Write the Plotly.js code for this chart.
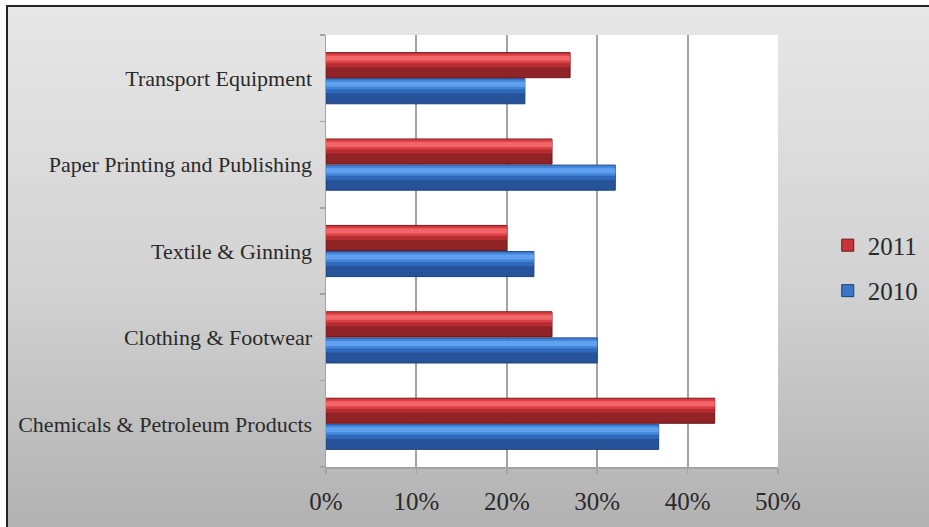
<!DOCTYPE html>
<html>
<head>
<meta charset="utf-8">
<script src="https://cdn.plot.ly/plotly-3.0.1.min.js"></script>
<style>
  html, body { margin:0; padding:0; background:#ffffff; overflow:hidden; }
  #wrap { position:relative; width:929px; height:527px; overflow:hidden; }
  #frame { position:absolute; left:6px; top:5px; width:960px; height:560px;
           border:2px solid #262626; box-sizing:border-box;
           background:linear-gradient(to bottom, #e7e7e7 0%, #d2d2d2 50%, #adadad 100%); }
  #chart { position:absolute; left:0; top:0; width:929px; height:527px; }
</style>
</head>
<body>
<div id="wrap"><div id="frame"></div><div id="chart"></div></div>
<script>
// ---- data ----
const categories = ["Chemicals & Petroleum Products", "Clothing & Footwear", "Textile & Ginning", "Paper Printing and Publishing", "Transport Equipment"];
const values2010 = [36.8, 30, 23, 32, 22];
const values2011 = [43, 25, 20, 25, 27];
const seriesNames = ["2010", "2011"];
const xTickVals = [0, 10, 20, 30, 40, 50];
const xTickText = ["0%", "10%", "20%", "30%", "40%", "50%"];

// ---- styling (bar thickness in category units, shading strips) ----
const barW = 0.29;
const seriesStyle = {
  "2010": { base: -0.296, outline: "#1a3f78", rank: 2,
            strips: [[0, 1, "#27539a"], [0.42, 1, "#3169ba"], [0.58, 0.96, "#4286d9"], [0.68, 0.88, "#60a0ee"]],
            legendColor: "#3a76c8" },
  "2011": { base: 0.006, outline: "#6a1518", rank: 1,
            strips: [[0, 1, "#902326"], [0.42, 1, "#b52d31"], [0.58, 0.96, "#db4144"], [0.68, 0.88, "#f26668"]],
            legendColor: "#c8343a" }
};

const dataSets = { "2010": values2010, "2011": values2011 };
const traces = [];
seriesNames.forEach(name => {
  const st = seriesStyle[name];
  st.strips.forEach((s, i) => {
    traces.push({
      type: "bar", orientation: "h",
      x: dataSets[name], y: categories,
      offset: st.base + s[0] * barW, width: (s[1] - s[0]) * barW,
      marker: { color: s[2], line: { color: st.outline, width: i === 0 ? 1 : 0 } },
      name: name, legendgroup: name, showlegend: false, hoverinfo: "skip"
    });
  });
  // legend-only entry
  traces.push({
    type: "bar", orientation: "h", x: [null], y: [categories[0]],
    marker: { color: st.legendColor, line: { color: st.outline, width: 1 } },
    name: name, legendgroup: name, legendrank: st.rank, showlegend: true, hoverinfo: "skip"
  });
});

const layout = {
  width: 929, height: 527,
  margin: { l: 326, r: 151, t: 35, b: 60, pad: 0 },
  paper_bgcolor: "rgba(0,0,0,0)",
  plot_bgcolor: "#ffffff",
  barmode: "overlay",
  font: { family: "Liberation Serif", color: "#262626" },
  xaxis: {
    range: [0, 50], tickvals: xTickVals, ticktext: xTickText,
    showgrid: true, gridcolor: "#a3a3a3", gridwidth: 2,
    zeroline: false, showline: true, linecolor: "#a3a3a3", linewidth: 1.5,
    ticks: "outside", ticklen: 5, tickcolor: "#a3a3a3", tickwidth: 1.5,
    tickfont: { family: "Liberation Serif", size: 25, color: "#2a2a2a" },
    ticklabelstandoff: 6, fixedrange: true
  },
  yaxis: {
    type: "category", categoryorder: "array", categoryarray: categories,
    range: [-0.5, 4.5],
    showgrid: false, zeroline: false, showline: true, linecolor: "#a3a3a3", linewidth: 1.5,
    ticks: "outside", tickson: "boundaries", ticklen: 5, tickcolor: "#a3a3a3", tickwidth: 1.5,
    tickfont: { family: "Liberation Serif", size: 22, color: "#2a2a2a" },
    ticklabelstandoff: 8, fixedrange: true
  },
  legend: {
    xref: "container", yref: "container", x: 0.891, y: 0.578, xanchor: "left", yanchor: "top",
    traceorder: "grouped", tracegroupgap: 10,
    font: { family: "Liberation Serif", size: 25, color: "#2a2a2a" }, bgcolor: "rgba(0,0,0,0)", itemwidth: 30
  },
  showlegend: true
};

Plotly.newPlot("chart", traces, layout, { displayModeBar: false, staticPlot: true });
</script>
</body>
</html>
